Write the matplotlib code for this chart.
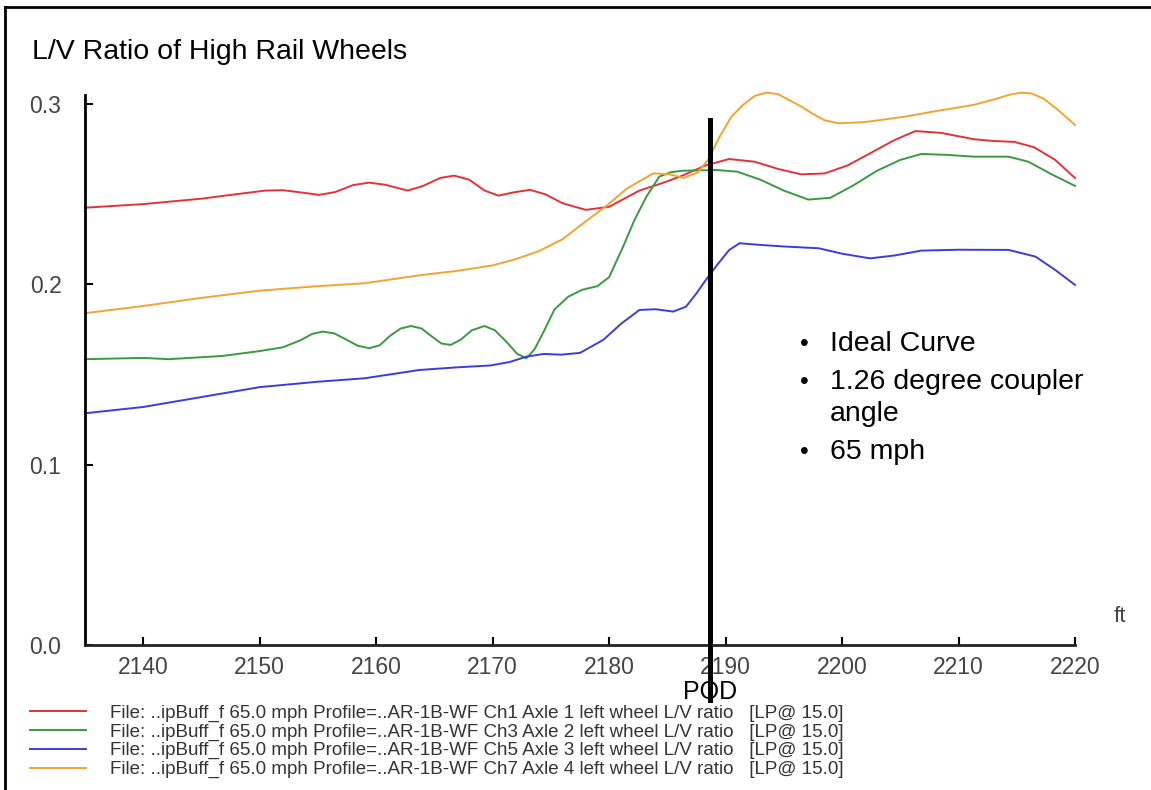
import matplotlib
matplotlib.use("Agg")
import matplotlib.pyplot as plt
from matplotlib.lines import Line2D

plt.rcParams['font.family'] = ['Liberation Sans', 'DejaVu Sans']

# distance along track (ft) and L/V ratio
red_x = [2135, 2140, 2145, 2148, 2150.5, 2152, 2153.5, 2155.1, 2156.5, 2158, 2159.4, 2160.8,
         2162.7, 2164, 2165.5, 2166.7, 2168, 2169.3, 2170.5, 2171.8, 2173.2, 2174.5, 2176,
         2178, 2180, 2182.6, 2184.5, 2186, 2188.3, 2190.3, 2192.5, 2194.5, 2196.5, 2198.5,
         2200.5, 2202.5, 2204.5, 2206.3, 2208.5, 2211.3, 2213, 2214.8, 2216.5, 2218.3, 2220]
red_y = [0.2425, 0.2445, 0.2475, 0.2500, 0.2520, 0.2522, 0.2510, 0.2496, 0.2512, 0.2550,
         0.2564, 0.2552, 0.2520, 0.2545, 0.2590, 0.2603, 0.2580, 0.2520, 0.2492, 0.2510,
         0.2524, 0.2500, 0.2450, 0.2413, 0.2430, 0.2520, 0.2560, 0.2595, 0.2660, 0.2695,
         0.2680, 0.2640, 0.2610, 0.2615, 0.2660, 0.2730, 0.2800, 0.2850, 0.2840, 0.2805,
         0.2795, 0.2790, 0.2760, 0.2690, 0.2590]

green_x = [2135, 2140, 2142.2, 2146.8, 2150, 2152, 2153.5, 2154.5, 2155.4, 2156.4, 2157.4,
           2158.4, 2159.4, 2160.3, 2161.2, 2162.1, 2163, 2163.9, 2164.8, 2165.6, 2166.4,
           2167.3, 2168.2, 2169.3, 2170.2, 2171.2, 2172.1, 2172.9, 2173.6, 2174.4, 2175.3,
           2176.5, 2177.7, 2179, 2180, 2181.2, 2182.2, 2183.2, 2184.3, 2185.3, 2186.3, 2189.2,
           2191, 2193, 2195, 2197.1, 2199, 2201, 2203, 2205, 2206.8, 2209, 2211.3, 2214.3,
           2216, 2218, 2220]
green_y = [0.1585, 0.1592, 0.1585, 0.1603, 0.1630, 0.1651, 0.1690, 0.1725, 0.1738, 0.1728,
           0.1695, 0.1660, 0.1646, 0.1662, 0.1715, 0.1755, 0.1769, 0.1755, 0.1710, 0.1672,
           0.1664, 0.1695, 0.1745, 0.1769, 0.1745, 0.1680, 0.1615, 0.1590, 0.1640, 0.1740,
           0.1860, 0.1932, 0.1970, 0.1990, 0.2040, 0.2209, 0.2360, 0.2486, 0.2597, 0.2622,
           0.2630, 0.2634, 0.2625, 0.2580, 0.2520, 0.2470, 0.2480, 0.2550, 0.2630, 0.2690,
           0.2723, 0.2718, 0.2708, 0.2708, 0.2680, 0.2610, 0.2546]

blue_x = [2135, 2140, 2145, 2150, 2155, 2159, 2163.7, 2167, 2169.8, 2171.5, 2172.9, 2174.4,
          2175.9, 2177.5, 2179.5, 2181, 2182.6, 2184, 2185.5, 2186.6, 2187.5, 2188.3,
          2189.3, 2190.3, 2191.2, 2192.9, 2195, 2198, 2200, 2202.4, 2204.5, 2206.8, 2210,
          2214.3, 2216.6, 2218.3, 2220]
blue_y = [0.1285, 0.1320, 0.1375, 0.1430, 0.1460, 0.1479, 0.1525, 0.1540, 0.1550, 0.1570,
          0.1599, 0.1614, 0.1610, 0.1620, 0.1692, 0.1780, 0.1858, 0.1862, 0.1849, 0.1876,
          0.1950, 0.2024, 0.2110, 0.2190, 0.2228, 0.2219, 0.2210, 0.2200, 0.2170, 0.2144,
          0.2160, 0.2187, 0.2192, 0.2191, 0.2154, 0.2080, 0.1997]

orange_x = [2135, 2140, 2145, 2150, 2155, 2159, 2163.7, 2167, 2170, 2172, 2174, 2176, 2178,
            2179.7, 2181.5, 2183.8, 2185.2, 2186.4, 2187.6, 2188.5, 2189.5, 2190.5, 2191.5,
            2192.5, 2193.5, 2194.5, 2195.5, 2196.5, 2197.5, 2198.5, 2199.7, 2202, 2205.4,
            2208, 2211.3, 2213.3, 2214.4, 2215.4, 2216.3, 2217.3, 2218.5, 2220]
orange_y = [0.1840, 0.1880, 0.1925, 0.1965, 0.1990, 0.2006, 0.2050, 0.2075, 0.2105, 0.2140,
            0.2185, 0.2250, 0.2350, 0.2431, 0.2530, 0.2616, 0.2610, 0.2590, 0.2620, 0.2690,
            0.2820, 0.2930, 0.2995, 0.3045, 0.3063, 0.3055, 0.3020, 0.2986, 0.2945, 0.2910,
            0.2893, 0.2900, 0.2930, 0.2960, 0.2995, 0.3030, 0.3052, 0.3063, 0.3058, 0.3030,
            0.2970, 0.2884]

legend_labels = [
    "File: ..ipBuff_f 65.0 mph Profile=..AR-1B-WF Ch1 Axle 1 left wheel L/V ratio   [LP@ 15.0]",
    "File: ..ipBuff_f 65.0 mph Profile=..AR-1B-WF Ch3 Axle 2 left wheel L/V ratio   [LP@ 15.0]",
    "File: ..ipBuff_f 65.0 mph Profile=..AR-1B-WF Ch5 Axle 3 left wheel L/V ratio   [LP@ 15.0]",
    "File: ..ipBuff_f 65.0 mph Profile=..AR-1B-WF Ch7 Axle 4 left wheel L/V ratio   [LP@ 15.0]",
]
notes = [("Ideal Curve", True), ("1.26 degree coupler", True), ("angle", False), ("65 mph", True)]

x_ticks = [2140, 2150, 2160, 2170, 2180, 2190, 2200, 2210, 2220]
y_ticks = [0.0, 0.1, 0.2, 0.3]
pod_x = 2188.7
pod_y = [-0.0305, 0.2912]

W, H = 1151, 790
fig = plt.figure(figsize=(W / 100, H / 100), dpi=100)
ax = fig.add_axes([85 / W, 1 - 645 / H, (1075 - 85) / W, (645 - 95) / H])

series = [
    (red_x, red_y, '#e2323c'),
    (green_x, green_y, '#3b9a3f'),
    (blue_x, blue_y, '#3c3cdc'),
    (orange_x, orange_y, '#f2a431'),
]
handles = []
for (xs, ys, c), lab in zip(series, legend_labels):
    ln, = ax.plot(xs, ys, color=c, lw=1.4, label=lab, clip_on=False,
                  solid_joinstyle='round')
    handles.append(ln)

# point of derailment marker
ax.plot([pod_x, pod_x], pod_y, color='black', lw=3.6, clip_on=False, zorder=5)
ax.text(pod_x, -0.0195, "POD", ha='center', va='top', fontsize=18, color='black')

ax.set_xlim(2135, 2220)
ax.set_ylim(0, 0.305)
ax.set_xticks(x_ticks)
ax.set_yticks(y_ticks)
ax.set_yticklabels([f"{v:.1f}" for v in y_ticks])
for s in ['top', 'right']:
    ax.spines[s].set_visible(False)
ax.spines['left'].set_linewidth(2)
ax.spines['bottom'].set_linewidth(2)
ax.spines['bottom'].set_color('#222222')
ax.tick_params(axis='both', direction='in', length=6, width=1.5, labelsize=16.5,
               labelcolor='#444444')
ax.tick_params(axis='y', pad=17)
ax.tick_params(axis='x', pad=8)

ax.text(1.045, 0.051, "ft", transform=ax.transAxes, fontsize=16, color='#444444',
        ha='center', va='center')

fig.text(32 / W, 1 - 52 / H, "L/V Ratio of High Rail Wheels", fontsize=20.5,
         ha='left', va='center', color='black')

# bullet notes
note_y = [344, 382, 414, 452]
for ny, (txt, bullet) in zip(note_y, notes):
    if bullet:
        fig.text(800 / W, 1 - ny / H, "\u2022", fontsize=18, ha='left', va='center')
    fig.text(830 / W, 1 - ny / H, txt, fontsize=20.5, ha='left', va='center')

fig.legend(handles=handles, loc='upper left', bbox_to_anchor=(22 / W, 1 - 697 / H),
           frameon=False, fontsize=13.5, handlelength=3.0, handletextpad=1.3,
           labelspacing=0.08, borderaxespad=0, labelcolor='#333333')

# outer frame (left and top edges only visible)
fig.add_artist(Line2D([5 / W, 5 / W], [0, 1 - 7 / H], color='black', lw=2))
fig.add_artist(Line2D([5 / W, 1], [1 - 7 / H, 1 - 7 / H], color='black', lw=2))

fig.savefig("out.png", dpi=100)
